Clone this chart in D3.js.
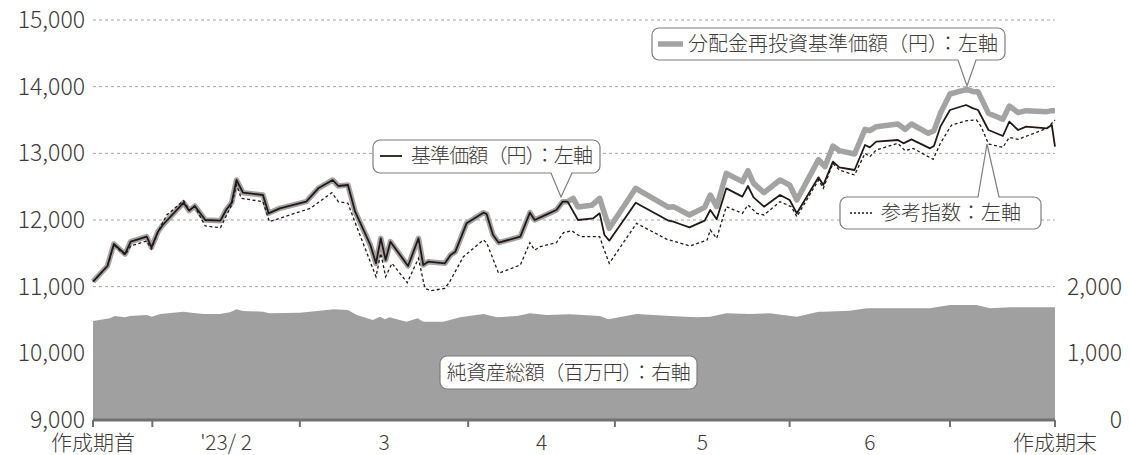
<!DOCTYPE html>
<html>
<head>
<meta charset="utf-8">
<script src="https://cdn.jsdelivr.net/npm/d3@7"></script>
<style>
  body { margin: 0; background: #fff; }
  text { font-family: "Noto Sans CJK JP", "Noto Sans", sans-serif; font-weight: 300; fill: #3e3a39; }
</style>
</head>
<body>
<div id="chart"></div>
<script>
// DATA (x = trading day index from 作成期首, y = value)

// 基準価額（円）
var navPts = [
  [0, 11075], [1.8, 11310], [2.6, 11640], [4.0, 11490], [4.7, 11675], [6.7, 11750],
  [7.3, 11590], [8.1, 11825], [8.7, 11925], [11.3, 12260], [12.0, 12140], [12.7, 12210],
  [14.0, 12000], [15.9, 11990], [16.6, 12150], [17.3, 12260], [17.9, 12600], [18.7, 12410],
  [21.2, 12375], [21.9, 12100], [23.3, 12175], [26.6, 12275], [28.1, 12475], [29.9, 12600],
  [30.6, 12510], [31.8, 12525], [32.7, 12125], [34.6, 11625], [35.3, 11350], [35.9, 11725],
  [36.5, 11400], [37.1, 11675], [39.3, 11310], [40.6, 11725], [41.2, 11325], [41.8, 11375],
  [43.9, 11350], [44.6, 11475], [45.2, 11525], [46.6, 11950], [48.7, 12110], [49.1, 12090],
  [49.9, 11775], [50.6, 11660], [53.3, 11750], [54.5, 12110], [55.1, 12000], [56.0, 12050],
  [57.8, 12150], [58.6, 12275], [59.2, 12275], [60.5, 12000], [62.4, 12025], [63.2, 12100],
  [63.8, 11775], [64.4, 11690], [67.7, 12260], [71.8, 11990], [72.4, 11975], [73.2, 11940],
  [74.4, 11890], [76.3, 11990], [77.0, 12150], [77.8, 12010], [79.0, 12475], [81.0, 12350],
  [81.7, 12510], [82.4, 12340], [83.7, 12200], [85.7, 12375], [86.9, 12300], [87.8, 12100],
  [90.5, 12640], [91.1, 12525], [92.3, 12875], [93.1, 12790], [95.0, 12750], [96.3, 13125],
  [96.9, 13090], [97.7, 13175], [100.4, 13200], [101.1, 13150], [102.1, 13210], [104.4, 13075],
  [104.9, 13110], [105.7, 13400], [106.9, 13650], [108.9, 13725], [109.8, 13675], [110.4, 13650],
  [111.7, 13350], [113.5, 13260], [114.3, 13475], [115.4, 13350], [116.4, 13400], [119.0, 13375],
  [119.6, 13425], [120, 13100]
];

// 分配金再投資基準価額（円）: same as 基準価額 until the first distribution
var reinvTail = [
  [59.9, 12325], [60.5, 12195], [62.2, 12220], [63.2, 12325], [64.4, 11875], [67.7, 12475],
  [71.8, 12190], [72.4, 12200], [74.4, 12075], [76.3, 12190], [77.0, 12375], [77.8, 12200],
  [79.0, 12700], [81.0, 12575], [81.7, 12740], [82.4, 12550], [83.7, 12410], [85.7, 12600],
  [86.9, 12525], [87.8, 12300], [90.5, 12905], [91.3, 12800], [92.3, 13110], [93.1, 13040],
  [95.0, 12990], [96.3, 13360], [96.9, 13340], [97.7, 13400], [100.4, 13440], [101.3, 13360],
  [102.1, 13440], [104.2, 13300], [104.9, 13340], [105.7, 13600], [106.9, 13890], [109.0, 13960],
  [109.8, 13925], [110.4, 13925], [111.7, 13600], [113.5, 13510], [114.3, 13710], [115.4, 13610],
  [116.4, 13640], [119.0, 13625], [119.6, 13640], [120, 13640]
];
var reinvPts = navPts.filter(function(d){ return d[0] <= 59.2; }).concat(reinvTail);

// 参考指数
var indexPts = [
  [0, 11075], [1.8, 11310], [2.6, 11625], [4.0, 11475], [4.7, 11610], [6.7, 11685],
  [7.3, 11565], [8.1, 11820], [9.2, 12075], [11.3, 12290], [12.0, 12150], [12.7, 12200],
  [14.0, 11910], [15.9, 11885], [17.3, 12225], [17.9, 12525], [18.5, 12325], [21.2, 12275],
  [22.0, 11975], [27.1, 12175], [29.8, 12410], [30.6, 12275], [31.8, 12250], [32.5, 12025],
  [35.3, 11150], [35.9, 11500], [36.5, 11150], [37.3, 11350], [39.2, 11060], [40.6, 11425],
  [41.4, 10975], [42.2, 10940], [43.9, 10975], [44.5, 11075], [46.2, 11450], [48.7, 11700],
  [49.1, 11660], [50.6, 11200], [53.3, 11325], [54.5, 11660], [55.1, 11550], [55.8, 11600],
  [57.8, 11660], [58.7, 11810], [59.7, 11840], [60.5, 11775], [61.0, 11750], [63.2, 11750],
  [63.7, 11575], [64.4, 11350], [67.8, 11950], [71.6, 11710], [74.5, 11610], [76.6, 11700],
  [77.0, 11850], [77.8, 11725], [79.0, 12200], [81.0, 12100], [81.7, 12225], [82.8, 12100],
  [83.7, 12075], [85.7, 12275], [87.1, 12200], [87.8, 12050], [90.5, 12600], [91.1, 12475],
  [92.3, 12850], [93.1, 12750], [95.0, 12675], [96.3, 13000], [96.9, 12950], [97.7, 13050],
  [100.4, 13150], [101.3, 13040], [102.3, 13075], [104.8, 12910], [105.7, 13150], [107.1, 13425],
  [109.0, 13490], [110.2, 13500], [110.8, 13400], [111.7, 13140], [113.5, 13090], [114.3, 13240],
  [115.4, 13210], [119.0, 13375], [120, 13500]
];

// 純資産総額（百万円）
var assetsPts = [
  [0, 1485], [2.1, 1525], [2.7, 1560], [4.0, 1540], [4.6, 1560], [6.7, 1575], [7.3, 1550],
  [8.4, 1590], [11.3, 1625], [12.3, 1610], [13.8, 1590], [15.8, 1590], [17.1, 1615], [17.9, 1660],
  [18.7, 1635], [21.2, 1625], [22.0, 1600], [25.8, 1610], [28.3, 1640], [30.0, 1660], [31.8, 1650],
  [32.9, 1575], [34.9, 1500], [35.8, 1550], [36.4, 1510], [37.0, 1540], [39.1, 1475], [40.5, 1525],
  [41.2, 1475], [43.7, 1475], [45.8, 1540], [48.7, 1590], [50.4, 1540], [52.9, 1560], [54.5, 1600],
  [56.6, 1575], [59.5, 1585], [63.2, 1560], [64.3, 1510], [67.8, 1590], [72.0, 1560], [75.3, 1540],
  [77.0, 1550], [79.0, 1600], [81.9, 1590], [84.4, 1600], [87.8, 1550], [90.5, 1625], [91.1, 1625],
  [94.4, 1640], [96.5, 1675], [101.1, 1675], [104.4, 1675], [106.9, 1725], [110.2, 1725],
  [111.9, 1675], [114.4, 1690], [120, 1690]
];

var leftTicks = [9000, 10000, 11000, 12000, 13000, 14000, 15000];
var rightTicks = [0, 1000, 2000];
var monthTicks = [0, 7.4, 25.8, 46.8, 65.1, 86.9, 106.9, 120];
var monthLabels = ["'23/ 2", "3", "4", "5", "6"];
var endLabels = ["作成期首", "作成期末"];

// LAYOUT

var W = 1129, H = 455;
var plotL = 93, plotR = 1055, plotT = 20, plotB = 420;

var x = d3.scaleLinear().domain([0, 120]).range([plotL, plotR]);
var yL = d3.scaleLinear().domain([9000, 15000]).range([plotB, plotT]);
var yR = d3.scaleLinear().domain([0, 6000]).range([plotB, plotT]);

var svg = d3.select('#chart').append('svg')
  .attr('width', W).attr('height', H);

// grid
svg.selectAll('.grid')
  .data(leftTicks.filter(function(t){ return t > 9000; }))
  .enter().append('line')
  .attr('x1', plotL).attr('x2', plotR)
  .attr('y1', function(d){ return yL(d); })
  .attr('y2', function(d){ return yL(d); })
  .attr('stroke', '#a5a5a5').attr('stroke-width', 1)
  .attr('stroke-dasharray', '3,3');

// net assets area
var area = d3.area()
  .x(function(d){ return x(d[0]); })
  .y0(yR(0))
  .y1(function(d){ return yR(d[1]); });

svg.append('path').datum(assetsPts)
  .attr('d', area)
  .attr('fill', '#a0a0a0');

var lineL = d3.line()
  .x(function(d){ return x(d[0]); })
  .y(function(d){ return yL(d[1]); });

svg.append('path').datum(reinvPts)
  .attr('d', lineL).attr('fill', 'none')
  .attr('stroke', '#a3a3a3').attr('stroke-width', 5.5)
  .attr('stroke-linejoin', 'round');

svg.append('path').datum(indexPts)
  .attr('d', lineL).attr('fill', 'none')
  .attr('stroke', '#231815').attr('stroke-width', 1.3)
  .attr('stroke-dasharray', '3,2.5');

svg.append('path').datum(navPts)
  .attr('d', lineL).attr('fill', 'none')
  .attr('stroke', '#231815').attr('stroke-width', 1.8)
  .attr('stroke-linejoin', 'round');

// x axis
svg.append('line')
  .attr('x1', plotL).attr('x2', plotR)
  .attr('y1', plotB).attr('y2', plotB)
  .attr('stroke', '#727171').attr('stroke-width', 3);

svg.selectAll('.xtick')
  .data(monthTicks)
  .enter().append('line')
  .attr('x1', function(d){ return x(d); })
  .attr('x2', function(d){ return x(d); })
  .attr('y1', plotB).attr('y2', plotB + 7)
  .attr('stroke', '#727171').attr('stroke-width', 2);

svg.selectAll('.mlabel')
  .data(monthLabels)
  .enter().append('text')
  .attr('x', function(d, i){ return x((monthTicks[i + 1] + monthTicks[i + 2]) / 2); })
  .attr('y', 450)
  .attr('text-anchor', 'middle')
  .style('font-size', '21px')
  .text(function(d){ return d; });

svg.selectAll('.elabel')
  .data(endLabels)
  .enter().append('text')
  .attr('x', function(d, i){ return x(i === 0 ? 0 : 120); })
  .attr('y', 450)
  .attr('text-anchor', 'middle')
  .style('font-size', '21px')
  .text(function(d){ return d; });

// y axes labels
svg.selectAll('.ylab')
  .data(leftTicks)
  .enter().append('text')
  .attr('x', 85)
  .attr('y', function(d){ return yL(d); })
  .attr('dy', '0.35em')
  .attr('text-anchor', 'end')
  .style('font-size', '23px')
  .text(function(d){ return d3.format(',')(d); });

svg.selectAll('.rlab')
  .data(rightTicks)
  .enter().append('text')
  .attr('x', 1122)
  .attr('y', function(d){ return yR(d); })
  .attr('dy', '0.35em')
  .attr('text-anchor', 'end')
  .style('font-size', '23px')
  .text(function(d){ return d3.format(',')(d); });

// CALLOUTS

var callout = function(b){
  var r = 7, p = b.pointer;
  var d = 'M' + (b.x0 + r) + ',' + b.y0;
  if (p && p.side === 'top') d += 'H' + p.a + 'L' + p.tx + ',' + p.ty + 'L' + p.b + ',' + b.y0;
  d += 'H' + (b.x1 - r) + 'A' + r + ',' + r + ' 0 0 1 ' + b.x1 + ',' + (b.y0 + r);
  d += 'V' + (b.y1 - r) + 'A' + r + ',' + r + ' 0 0 1 ' + (b.x1 - r) + ',' + b.y1;
  if (p && p.side === 'bottom') d += 'H' + p.b + 'L' + p.tx + ',' + p.ty + 'L' + p.a + ',' + b.y1;
  d += 'H' + (b.x0 + r) + 'A' + r + ',' + r + ' 0 0 1 ' + b.x0 + ',' + (b.y1 - r);
  d += 'V' + (b.y0 + r) + 'A' + r + ',' + r + ' 0 0 1 ' + (b.x0 + r) + ',' + b.y0 + 'Z';
  svg.append('path').attr('d', d)
    .attr('fill', '#fff').attr('stroke', '#7d7d7d').attr('stroke-width', 1.2);
};

callout({x0: 652, y0: 28, x1: 1005, y1: 60,
  pointer: {side: 'bottom', a: 958, b: 976, tx: 967, ty: 86}});
svg.append('line').attr('x1', 658).attr('x2', 683).attr('y1', 44).attr('y2', 44)
  .attr('stroke', '#a3a3a3').attr('stroke-width', 5.5);
svg.append('text').attr('x', 688).attr('y', 44).attr('dy', '0.36em')
  .style('font-size', '20px').text('分配金再投資基準価額（円）：左軸');

callout({x0: 373, y0: 140, x1: 600, y1: 173,
  pointer: {side: 'bottom', a: 551, b: 572, tx: 561, ty: 197}});
svg.append('line').attr('x1', 380).attr('x2', 402).attr('y1', 156).attr('y2', 156)
  .attr('stroke', '#231815').attr('stroke-width', 1.8);
svg.append('text').attr('x', 411).attr('y', 156).attr('dy', '0.36em')
  .style('font-size', '20px').style('letter-spacing', '-0.9px')
  .text('基準価額（円）：左軸');

callout({x0: 840, y0: 197, x1: 1041, y1: 229,
  pointer: {side: 'top', a: 978, b: 999, tx: 987, ty: 144}});
svg.append('line').attr('x1', 850).attr('x2', 874).attr('y1', 213).attr('y2', 213)
  .attr('stroke', '#231815').attr('stroke-width', 1.3).attr('stroke-dasharray', '2,2');
svg.append('text').attr('x', 881).attr('y', 213).attr('dy', '0.36em')
  .style('font-size', '20px').text('参考指数：左軸');

callout({x0: 440, y0: 356, x1: 697, y1: 389});
svg.append('text').attr('x', 568.5).attr('y', 372.5).attr('dy', '0.36em')
  .attr('text-anchor', 'middle')
  .style('font-size', '20px').style('letter-spacing', '-0.5px')
  .text('純資産総額（百万円）：右軸');
</script>
</body>
</html>
